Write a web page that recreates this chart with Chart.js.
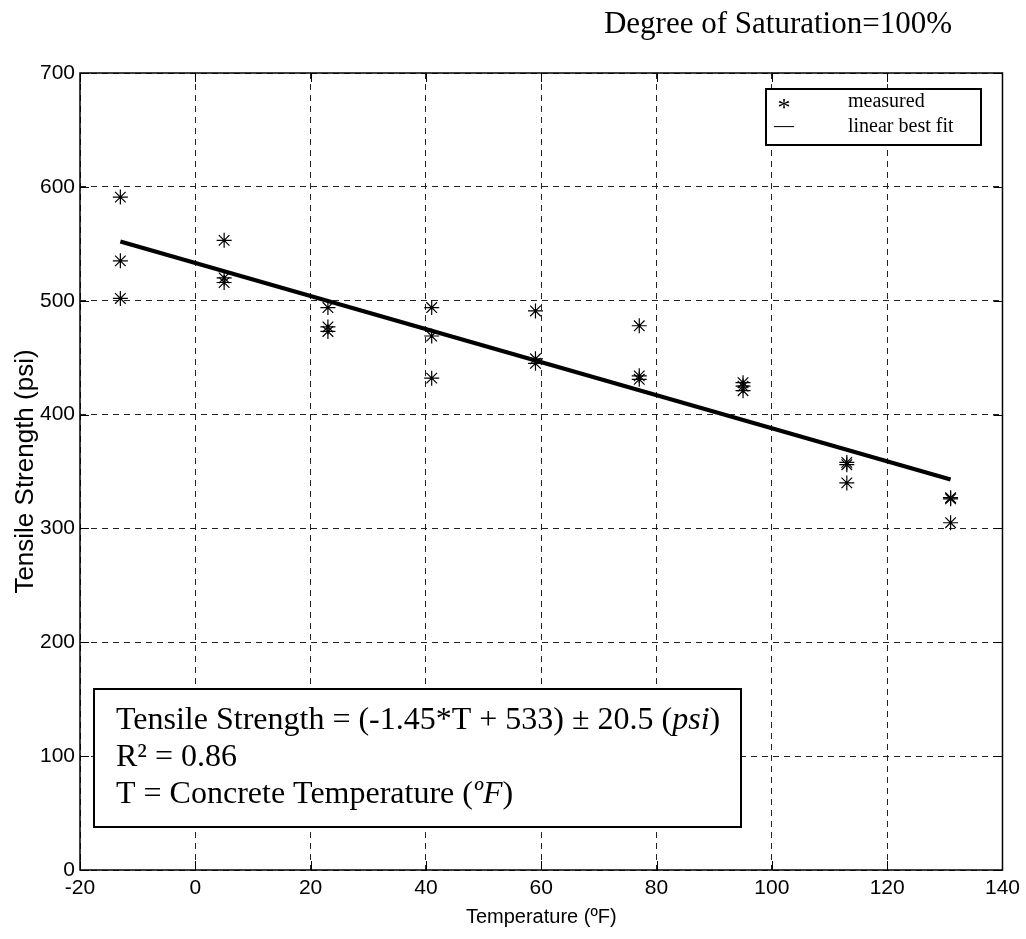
<!DOCTYPE html>
<html>
<head>
<meta charset="utf-8">
<script src="https://cdn.jsdelivr.net/npm/chart.js@4.4.0/dist/chart.umd.min.js"></script>
<style>
  html, body { margin: 0; padding: 0; background: #fff; }
</style>
</head>
<body>
<canvas id="chart" width="1026" height="939"></canvas>
<script>
// measured tensile strength (psi) vs concrete temperature (F)
const tempF = [-13, -13, -13, 5, 5, 5, 23, 23, 23, 41, 41, 41, 59, 59, 59, 77, 77, 77, 95, 95, 95, 113, 113, 113, 131, 131, 131];
const strength = [591, 535, 502, 553, 520, 516, 494, 477, 473, 494, 469, 432, 491, 449, 445, 478, 434, 431, 428, 425, 421, 358, 356, 340, 327, 326, 305];

// linear best fit end points
const fitX = [-13, 131];
const fitY = [552, 343];

const xTicks = [-20, 0, 20, 40, 60, 80, 100, 120, 140];
const yTicks = [0, 100, 200, 300, 400, 500, 600, 700];

const serif = '"Liberation Serif", "Times New Roman", serif';
const narrow = '"Liberation Sans Narrow", "Arial Narrow", "Liberation Sans", sans-serif';

// draws frame, inner ticks, legend box, equation box and title
const decor = {
    id: "decor",
    afterDraw(chart) {
        const ctx = chart.ctx;
        const a = chart.chartArea;
        const xs = chart.scales.x;
        const ys = chart.scales.y;
        ctx.save();
        ctx.strokeStyle = "#000";
        ctx.lineWidth = 1.5;
        ctx.strokeRect(a.left, a.top, a.right - a.left, a.bottom - a.top);

        ctx.lineWidth = 1;
        ctx.beginPath();
        xTicks.forEach(v => {
            const px = Math.round(xs.getPixelForValue(v)) + 0.5;
            ctx.moveTo(px, a.bottom); ctx.lineTo(px, a.bottom - 9);
            ctx.moveTo(px, a.top); ctx.lineTo(px, a.top + 9);
        });
        yTicks.forEach(v => {
            const py = Math.round(ys.getPixelForValue(v)) + 0.5;
            ctx.moveTo(a.left, py); ctx.lineTo(a.left + 9, py);
            ctx.moveTo(a.right, py); ctx.lineTo(a.right - 9, py);
        });
        ctx.stroke();

        // legend
        ctx.fillStyle = "#fff";
        ctx.fillRect(766, 89, 215, 56);
        ctx.lineWidth = 2;
        ctx.strokeRect(766, 89, 215, 56);
        ctx.fillStyle = "#000";
        ctx.textBaseline = "alphabetic";
        ctx.textAlign = "center";
        ctx.font = "26px " + serif;
        ctx.fillText("*", 784, 116);
        ctx.font = "20px " + serif;
        ctx.fillText("\u2014", 784, 132);
        ctx.textAlign = "left";
        ctx.fillText("measured", 848, 107);
        ctx.fillText("linear best fit", 848, 132);

        // equation box
        ctx.fillStyle = "#fff";
        ctx.fillRect(94, 689, 647, 138);
        ctx.lineWidth = 2;
        ctx.strokeRect(94, 689, 647, 138);
        ctx.fillStyle = "#000";
        const up = "32px " + serif;
        const it = "italic 32px " + serif;
        const runs = [
            [[up, "Tensile Strength = (-1.45*T + 533) \u00b1 20.5 ("], [it, "psi"], [up, ")"]],
            [[up, "R\u00b2 = 0.86"]],
            [[up, "T = Concrete Temperature ("], [it, "\u00baF"], [up, ")"]]
        ];
        runs.forEach((line, i) => {
            let x = 116;
            const y = 729 + i * 37;
            line.forEach(([f, t]) => {
                ctx.font = f;
                ctx.fillText(t, x, y);
                x += ctx.measureText(t).width;
            });
        });

        // title
        ctx.font = "31px " + serif;
        ctx.textAlign = "right";
        ctx.fillText("Degree of Saturation=100%", 952, 33);
        ctx.restore();
    }
};

new Chart(document.getElementById("chart").getContext("2d"), {
    type: "scatter",
    data: {
        datasets: [{
            label: "measured",
            data: tempF.map((t, i) => ({ x: t, y: strength[i] })),
            pointStyle: "star",
            pointRadius: 7.5,
            borderColor: "#000",
            backgroundColor: "#000",
            pointBorderWidth: 1.2
        }, {
            label: "linear best fit",
            data: fitX.map((t, i) => ({ x: t, y: fitY[i] })),
            showLine: true,
            borderColor: "#000",
            borderWidth: 4,
            pointRadius: 0
        }]
    },
    options: {
        responsive: false,
        animation: false,
        layout: { padding: { top: 73, right: 22, left: 0, bottom: 0 } },
        plugins: {
            legend: { display: false },
            tooltip: { enabled: false }
        },
        scales: {
            x: {
                min: -20,
                max: 140,
                afterBuildTicks: s => { s.ticks = xTicks.map(v => ({ value: v })); },
                afterFit: s => { s.height = 69; },
                grid: { color: "#222", lineWidth: 1, drawTicks: false },
                border: { display: false, dash: [6, 5] },
                ticks: { color: "#000", padding: 6, font: { family: narrow, size: 21 } },
                title: {
                    display: true,
                    text: "Temperature (\u00baF)",
                    color: "#000",
                    font: { family: narrow, size: 20 },
                    padding: { top: 0, bottom: 10 }
                }
            },
            y: {
                min: 0,
                max: 700,
                afterBuildTicks: s => { s.ticks = yTicks.map(v => ({ value: v })); },
                afterFit: s => { s.width = 80; },
                grid: { color: "#222", lineWidth: 1, drawTicks: false },
                border: { display: false, dash: [6, 5] },
                ticks: { color: "#000", padding: 5, font: { family: narrow, size: 21 } },
                title: {
                    display: true,
                    text: "Tensile Strength (psi)",
                    color: "#000",
                    font: { family: '"Liberation Sans", Arial, sans-serif', size: 26 },
                    padding: { top: 10, bottom: 0 }
                }
            }
        }
    },
    plugins: [decor]
});
</script>
</body>
</html>
